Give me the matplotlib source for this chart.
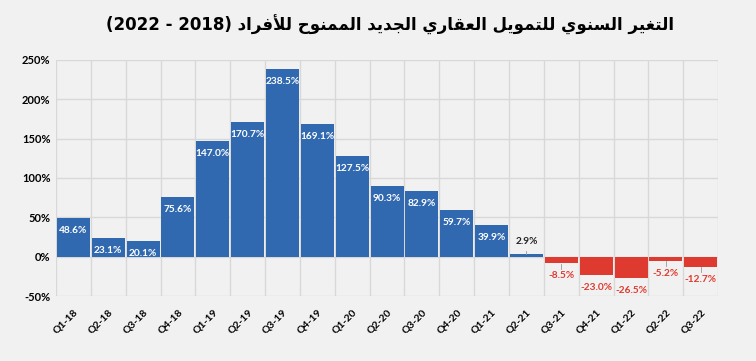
import matplotlib
matplotlib.use("Agg")
import matplotlib.pyplot as plt
import numpy as np

# data
quarters = ["Q1-18", "Q2-18", "Q3-18", "Q4-18", "Q1-19", "Q2-19", "Q3-19", "Q4-19",
            "Q1-20", "Q2-20", "Q3-20", "Q4-20", "Q1-21", "Q2-21", "Q3-21", "Q4-21",
            "Q1-22", "Q2-22", "Q3-22"]
growth = [48.6, 23.1, 20.1, 75.6, 147.0, 170.7, 238.5, 169.1, 127.5, 90.3,
          82.9, 59.7, 39.9, 2.9, -8.5, -23.0, -26.5, -5.2, -12.7]
yticks = [-50, 0, 50, 100, 150, 200, 250]

title_ar = "التغير السنوي للتمويل العقاري الجديد الممنوح للأفراد"
title_years = ("2018", "2022")

BLUE = "#3169b0"
RED = "#de3a2f"
BG = "#f1f1f1"

# minimal arabic shaping (matplotlib does not shape or reorder arabic)
FORMS = {
    "ا": ("\uFE8D", "\uFE8E", None, None),
    "أ": ("\uFE83", "\uFE84", None, None),
    "ت": ("\uFE95", "\uFE96", "\uFE97", "\uFE98"),
    "ج": ("\uFE9D", "\uFE9E", "\uFE9F", "\uFEA0"),
    "ح": ("\uFEA1", "\uFEA2", "\uFEA3", "\uFEA4"),
    "د": ("\uFEA9", "\uFEAA", None, None),
    "ر": ("\uFEAD", "\uFEAE", None, None),
    "س": ("\uFEB1", "\uFEB2", "\uFEB3", "\uFEB4"),
    "ع": ("\uFEC9", "\uFECA", "\uFECB", "\uFECC"),
    "غ": ("\uFECD", "\uFECE", "\uFECF", "\uFED0"),
    "ف": ("\uFED1", "\uFED2", "\uFED3", "\uFED4"),
    "ق": ("\uFED5", "\uFED6", "\uFED7", "\uFED8"),
    "ل": ("\uFEDD", "\uFEDE", "\uFEDF", "\uFEE0"),
    "م": ("\uFEE1", "\uFEE2", "\uFEE3", "\uFEE4"),
    "ن": ("\uFEE5", "\uFEE6", "\uFEE7", "\uFEE8"),
    "و": ("\uFEED", "\uFEEE", None, None),
    "ي": ("\uFEF1", "\uFEF2", "\uFEF3", "\uFEF4"),
    "\u0001": ("\uFEF7", "\uFEF8", None, None),  # lam-alef with hamza
}


def shape_arabic(text):
    text = text.replace("لأ", "\u0001")
    out = []
    for i, ch in enumerate(text):
        if ch not in FORMS:
            out.append(ch)
            continue
        prev = text[i - 1] if i > 0 else " "
        nxt = text[i + 1] if i + 1 < len(text) else " "
        join_prev = prev in FORMS and FORMS[prev][2] is not None
        join_next = nxt in FORMS and FORMS[ch][2] is not None
        iso, fin, ini, med = FORMS[ch]
        if join_prev and join_next:
            out.append(med)
        elif join_prev:
            out.append(fin)
        elif join_next:
            out.append(ini)
        else:
            out.append(iso)
    return "".join(out)[::-1]


fig = plt.figure(figsize=(7.56, 3.61), dpi=100, facecolor=BG)
ax = fig.add_axes([0.074, 0.180, 0.876, 0.654])
ax.set_facecolor(BG)

x = np.arange(len(quarters))
colors = [BLUE if v >= 0 else RED for v in growth]
ax.bar(x, growth, width=0.95, color=colors, zorder=3)

ax.set_xlim(-0.5, len(quarters) - 0.5)
ax.set_ylim(-50, 250)
ax.set_yticks(yticks)
ax.set_yticklabels([f"{v}%" for v in yticks], fontsize=8, fontweight="bold", family="Lato")
ax.set_xticks(x)
ax.set_xticklabels(quarters, rotation=45, ha="right", rotation_mode="anchor",
                   fontsize=7.5, fontweight="bold", family="Lato")
ax.tick_params(length=0, pad=4)
ax.tick_params(axis="x", pad=8)

# grid: horizontal at ticks, vertical between categories
for v in yticks:
    ax.axhline(v, color="#d8d8d8", lw=1, zorder=1)
for b in np.arange(-0.5, len(quarters), 1.0):
    ax.axvline(b, color="#d8d8d8", lw=1, zorder=1)
for s in ax.spines.values():
    s.set_visible(False)

# data labels
for xi, v in zip(x, growth):
    txt = f"{v:.1f}%"
    if v > 10:
        ax.annotate(txt, (xi, v), xytext=(0, -9), textcoords="offset points",
                    ha="center", va="center", color="white", fontsize=7.3,
                    fontweight="bold", family="Lato", zorder=4)
    elif v >= 0:
        ax.annotate(txt, (xi, v), xytext=(0, 9), textcoords="offset points",
                    ha="center", va="center", color="#222222", fontsize=7.3,
                    fontweight="bold", family="Lato", zorder=4)
        ax.plot([xi, xi], [v + 0.5, v + 4], color="#999999", lw=0.6, zorder=4)
    else:
        ax.annotate(txt, (xi, v), xytext=(0, -9), textcoords="offset points",
                    ha="center", va="center", color=RED, fontsize=7.3,
                    fontweight="bold", family="Lato", zorder=4)
        if v > -20:
            ax.plot([xi, xi], [v - 0.5, v - 7], color="#999999", lw=0.6, zorder=4)

# right-to-left visual order: the year range is shown mirrored
years_visual = f"({title_years[1]} - {title_years[0]})"
fig.text(0.516, 0.931, years_visual + " " + shape_arabic(title_ar), ha="center", va="center",
         fontsize=12, fontweight="bold", family=["DejaVu Sans"])

fig.savefig("out.png", dpi=100, facecolor=BG)
